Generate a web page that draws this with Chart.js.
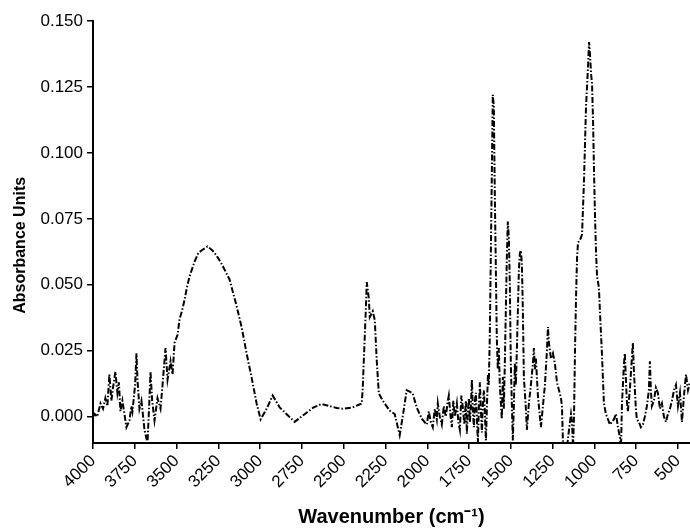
<!DOCTYPE html>
<html>
<head>
<meta charset="utf-8">
<script src="https://cdn.jsdelivr.net/npm/chart.js@4"></script>
<style>
  body { margin: 0; background: #fff; }
  #wrap { width: 690px; height: 531px; }
</style>
</head>
<body>
<div id="wrap"><canvas id="chart"></canvas></div>
<script>
// IR spectrum
const wavenumbers = [
  4000, 3990, 3975, 3955, 3940, 3926, 3914, 3902, 3890, 3878, 3866, 3854, 3845, 3836, 3824, 3812,
  3800, 3782, 3770, 3764, 3748, 3740, 3734, 3722, 3710, 3692, 3674, 3664, 3656, 3646, 3632, 3614,
  3596, 3584, 3566, 3554, 3536, 3524, 3512, 3494, 3482, 3468, 3453, 3438, 3423, 3393, 3370, 3351,
  3315, 3285, 3260, 3231, 3183, 3141, 3111, 3081, 3051, 3021, 2997, 2961, 2925, 2883, 2835, 2794,
  2722, 2680, 2632, 2584, 2542, 2506, 2446, 2410, 2392, 2386, 2368, 2362, 2350, 2344, 2326, 2314,
  2302, 2290, 2266, 2225, 2195, 2165, 2147, 2123, 2105, 2087, 2063, 2033, 2003, 1991, 1979, 1967,
  1955, 1943, 1937, 1925, 1913, 1901, 1889, 1877, 1871, 1862, 1853, 1844, 1835, 1823, 1814, 1805,
  1796, 1787, 1778, 1769, 1763, 1757, 1751, 1745, 1739, 1733, 1727, 1721, 1715, 1709, 1703, 1697,
  1691, 1685, 1679, 1673, 1667, 1661, 1655, 1649, 1643, 1637, 1632, 1626, 1614, 1608, 1602, 1596,
  1584, 1578, 1572, 1566, 1554, 1548, 1542, 1536, 1524, 1518, 1512, 1506, 1500, 1494, 1488, 1482,
  1476, 1470, 1464, 1452, 1446, 1440, 1434, 1428, 1422, 1410, 1404, 1392, 1380, 1368, 1362, 1356,
  1350, 1338, 1326, 1320, 1308, 1296, 1284, 1278, 1272, 1260, 1248, 1236, 1224, 1212, 1200, 1194,
  1188, 1182, 1170, 1152, 1140, 1134, 1128, 1122, 1116, 1110, 1104, 1098, 1086, 1074, 1062, 1050,
  1044, 1038, 1032, 1026, 1020, 1014, 1008, 1002, 996, 990, 984, 973, 967, 955, 943, 931,
  919, 907, 895, 883, 871, 859, 847, 841, 835, 823, 818, 812, 806, 800, 788, 776,
  770, 764, 752, 746, 734, 722, 710, 698, 686, 674, 668, 662, 656, 644, 632, 620,
  608, 596, 584, 572, 560, 548, 536, 524, 512, 500, 488, 476, 464, 452, 440, 428
];
const absorbance = [
  0.000, 0.001, 0.000, 0.005, 0.003, 0.007, 0.004, 0.016, 0.006, 0.012, 0.017, 0.009, 0.013, 0.002, 0.006, 0.001,
  -0.004, -0.0015, 0.004, 0.002, 0.012, 0.024, 0.014, 0.003, 0.006, -0.005, -0.010, 0.004, 0.017, 0.006, -0.0015, 0.007,
  0.003, 0.012, 0.026, 0.014, 0.021, 0.016, 0.028, 0.031, 0.037, 0.040, 0.044, 0.049, 0.053, 0.0587, 0.062, 0.063,
  0.0645, 0.063, 0.061, 0.058, 0.052, 0.042, 0.034, 0.024, 0.0148, 0.005, -0.001, 0.003, 0.008, 0.0035, 0.0005, -0.002,
  0.0015, 0.0035, 0.0048, 0.004, 0.0033, 0.003, 0.0035, 0.0045, 0.005, 0.011, 0.040, 0.051, 0.045, 0.0377, 0.040, 0.0366,
  0.021, 0.0088, 0.006, 0.0023, 0.001, -0.007, 0.000, 0.010, 0.0095, 0.0088, 0.0034, -0.0008, -0.003, 0.002, -0.002, -0.004,
  0.003, -0.001, 0.005, 0.000, -0.003, 0.004, 0.000, 0.006, 0.008, 0.001, -0.004, 0.006, 0.000, 0.005, -0.002, -0.005,
  0.008, 0.0034, -0.003, 0.006, -0.0065, 0.002, 0.007, -0.002, 0.004, 0.014, 0.002, -0.004, 0.006, 0.009, -0.001, -0.010,
  0.004, 0.013, 0.002, -0.006, 0.005, 0.010, 0.001, -0.009, 0.004, 0.016, 0.012, 0.030, 0.090, 0.122, 0.118, 0.085,
  0.030, 0.018, 0.026, 0.012, -0.001, 0.015, 0.003, 0.020, 0.060, 0.074, 0.068, 0.050, 0.020, 0.005, -0.009, 0.004,
  0.020, 0.012, 0.025, 0.055, 0.062, 0.063, 0.058, 0.040, 0.015, 0.003, -0.005, 0.005, 0.012, 0.020, 0.026, 0.018,
  0.022, 0.008, 0.000, -0.004, 0.004, 0.012, 0.025, 0.034, 0.028, 0.022, 0.024, 0.020, 0.013, 0.010, 0.007, 0.004,
  -0.010, -0.012, -0.015, -0.005, 0.001, -0.002, -0.012, 0.000, 0.025, 0.045, 0.060, 0.066, 0.067, 0.069, 0.090, 0.118,
  0.125, 0.133, 0.142, 0.137, 0.130, 0.126, 0.112, 0.092, 0.075, 0.062, 0.053, 0.049, 0.040, 0.024, 0.005, 0.001,
  -0.001, -0.003, -0.002, -0.001, 0.001, -0.004, -0.008, -0.012, 0.005, 0.020, 0.024, 0.015, 0.006, 0.002, 0.010, 0.022,
  0.028, 0.018, 0.003, -0.001, -0.002, -0.004, -0.003, 0.000, 0.004, 0.010, 0.021, 0.010, 0.004, 0.006, 0.011, 0.009,
  0.003, 0.005, 0.000, -0.002, 0.001, 0.003, 0.006, 0.010, 0.012, 0.004, 0.009, -0.002, 0.008, 0.016, 0.010, 0.013
];
const xTicks = [4000, 3750, 3500, 3250, 3000, 2750, 2500, 2250, 2000, 1750, 1500, 1250, 1000, 750, 500];
const yTicks = [0, 0.025, 0.05, 0.075, 0.1, 0.125, 0.15];

const points = wavenumbers.map((w, i) => ({ x: w, y: absorbance[i] }));

const tickFont = { family: 'Liberation Sans, Arial, sans-serif', size: 17 };

new Chart(document.getElementById('chart'), {
  type: 'line',
  data: {
    datasets: [{
      data: points,
      borderColor: '#000',
      borderWidth: 2,
      borderDash: [6, 2, 1.5, 2],
      pointRadius: 0,
      tension: 0
    }]
  },
  options: {
    responsive: true,
    maintainAspectRatio: false,
    animation: false,
    layout: { padding: { top: 21, right: 0, left: 0, bottom: 0 } },
    plugins: { legend: { display: false }, tooltip: { enabled: false } },
    scales: {
      x: {
        type: 'linear',
        reverse: true,
        min: 428,
        max: 4000,
        afterBuildTicks: (axis) => { axis.ticks = xTicks.map(v => ({ value: v })); },
        afterFit: (axis) => {
          axis.height = 88;
          axis.paddingRight = 0;
          axis.paddingLeft = 0;
        },
        ticks: {
          autoSkip: false,
          minRotation: 45,
          maxRotation: 45,
          color: '#000',
          font: tickFont,
          padding: 2,
          callback: (v) => String(v)
        },
        grid: { drawOnChartArea: false, color: '#000', lineWidth: 1.5, tickLength: 6 },
        border: { color: '#000', width: 2 },
        title: {
          display: true,
          text: 'Wavenumber (cm⁻¹)',
          color: '#000',
          font: { family: 'Liberation Sans, Arial, sans-serif', size: 20, weight: 'bold' },
          padding: { top: 0, bottom: 2 }
        }
      },
      y: {
        min: -0.01,
        max: 0.15,
        afterBuildTicks: (axis) => { axis.ticks = yTicks.map(v => ({ value: v })); },
        afterFit: (axis) => { axis.width = 93; },
        ticks: {
          color: '#000',
          font: tickFont,
          padding: 4,
          callback: (v) => v.toFixed(3)
        },
        grid: { drawOnChartArea: false, color: '#000', lineWidth: 1.5, tickLength: 6 },
        border: { color: '#000', width: 2 },
        title: {
          display: true,
          // trailing spaces nudge the label down a little, like the original
          text: 'Absorbance Units      ',
          color: '#000',
          font: { family: 'Liberation Sans, Arial, sans-serif', size: 16, weight: 'bold' },
          padding: { top: 11, bottom: 0 }
        }
      }
    }
  }
});
</script>
</body>
</html>
